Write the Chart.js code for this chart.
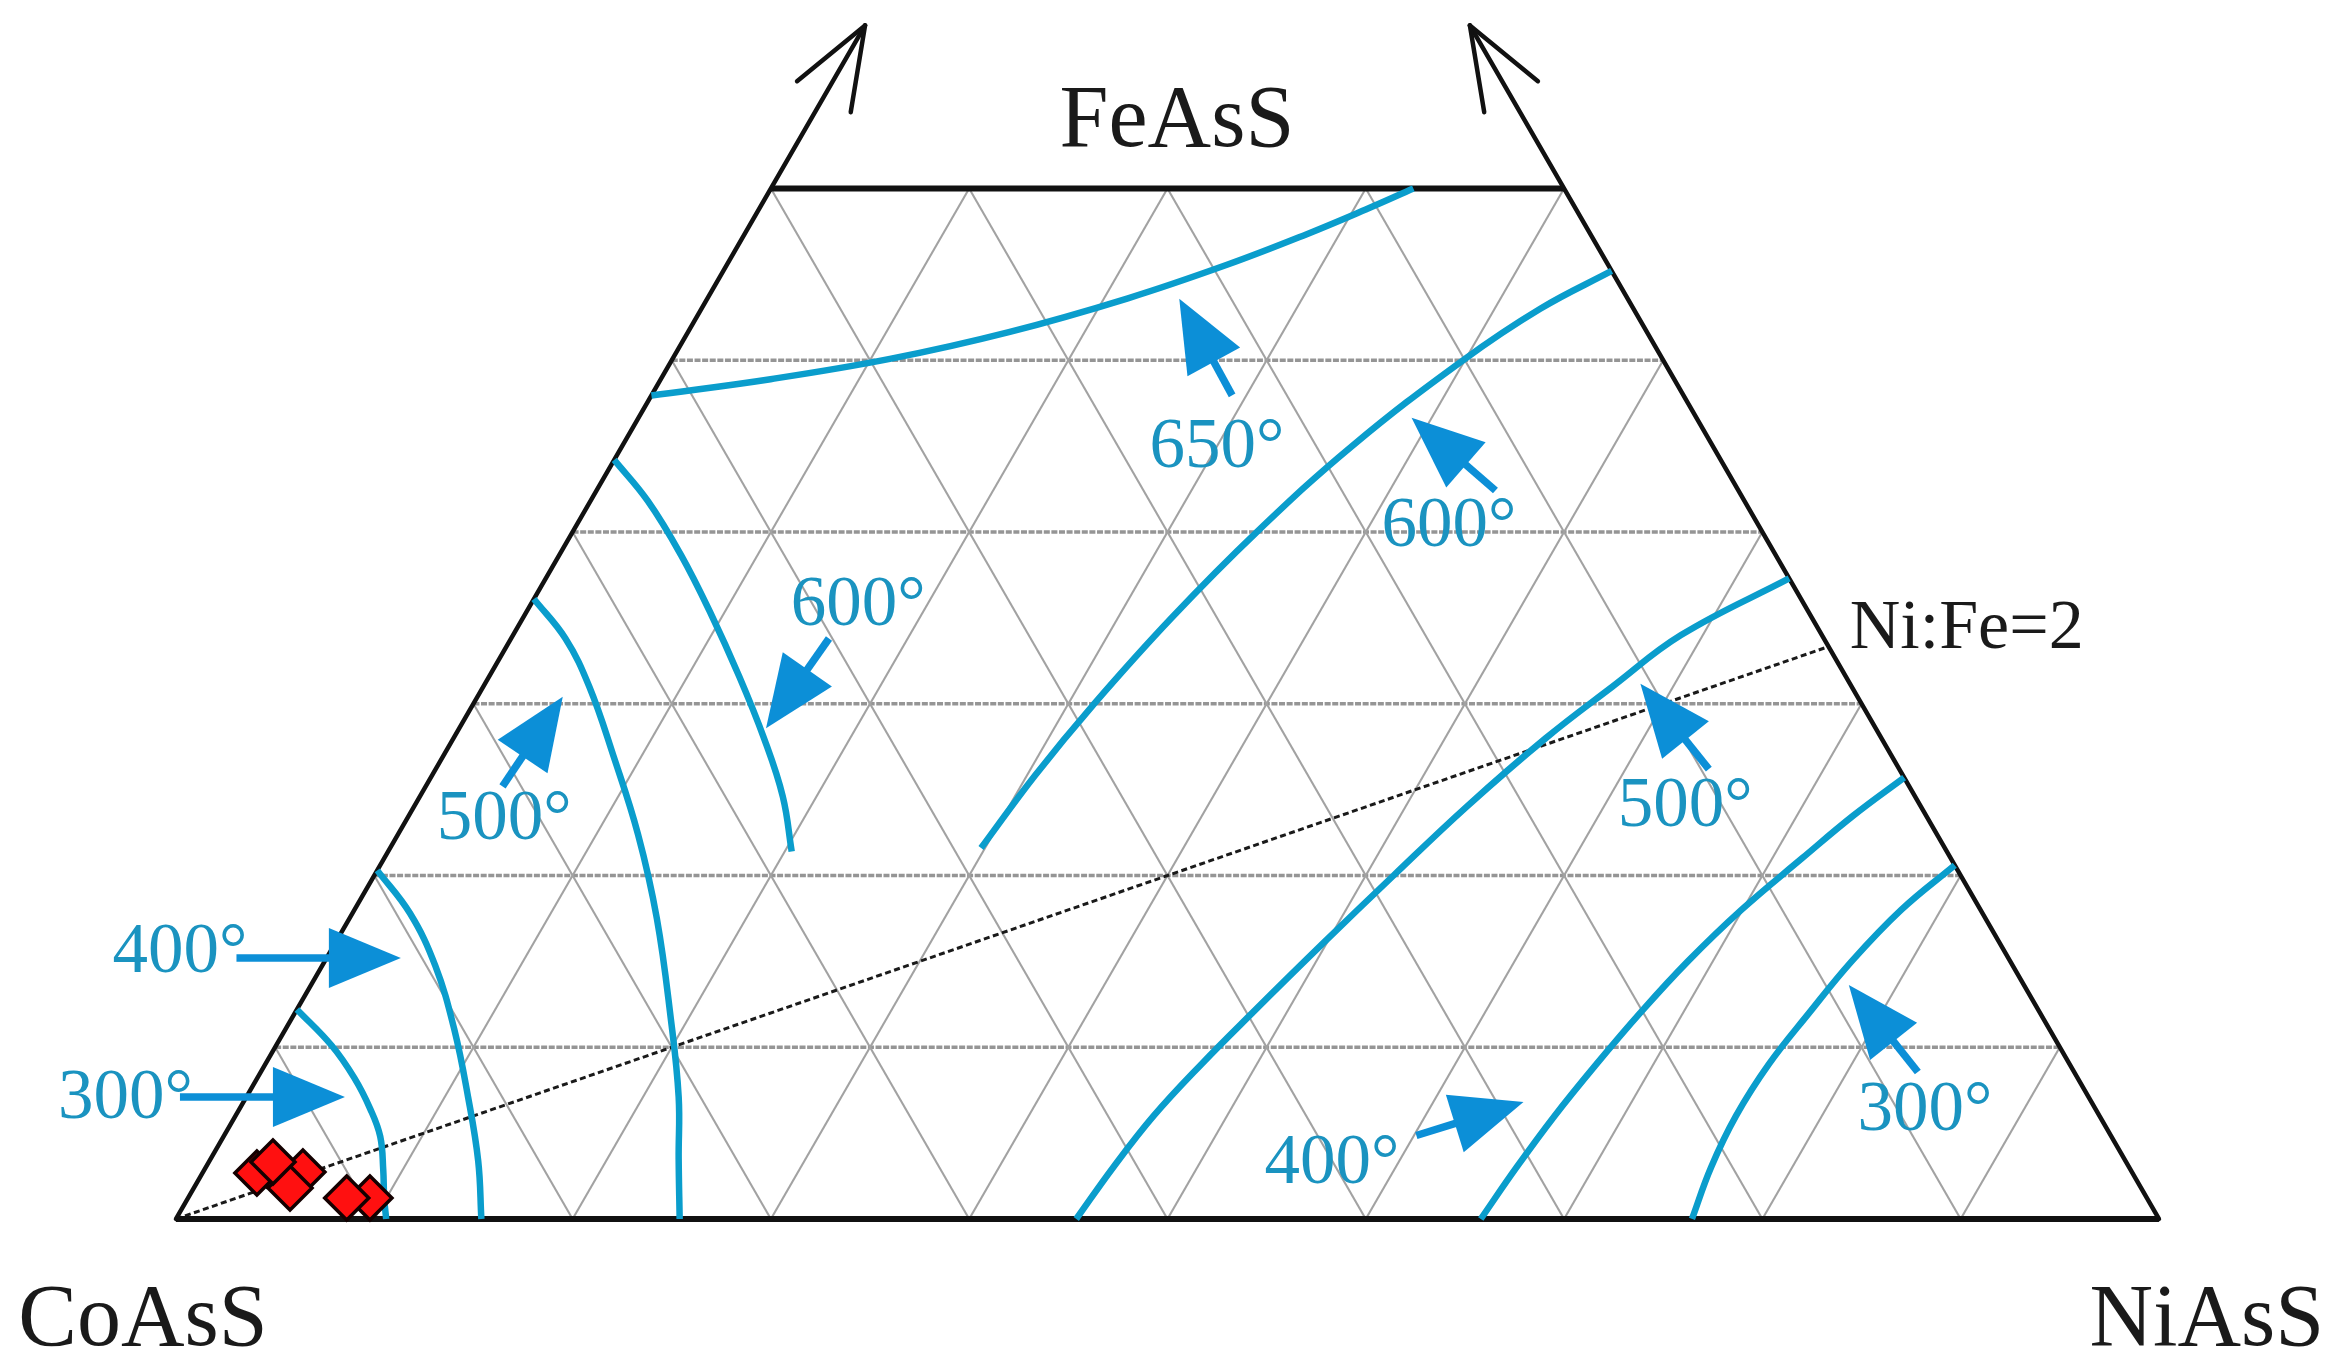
<!DOCTYPE html>
<html>
<head>
<meta charset="utf-8">
<script src="https://cdn.jsdelivr.net/npm/chart.js@4.4.0/dist/chart.umd.min.js"></script>
<style>
html,body{margin:0;padding:0;background:#fff;overflow:hidden;}
#wrap{width:2340px;height:1370px;position:relative;}
</style>
</head>
<body>
<div id="wrap"><canvas id="c"></canvas></div>
<script>
// All compositions are ternary [NiAsS %, FeAsS %]; CoAsS = 100 - Ni - Fe
const gridFe = [10, 20, 30, 40, 50];
const gridNi = [10, 20, 30, 40, 50, 60, 70, 80, 90];
const topFe = 60;
const axisArrowFe = 69.5;
const ratioLine = [[0, 0], [66.67, 33.33]]; // Ni:Fe = 2

const iso300L = [[0,12.2],[2.8,10.1],[4.9,8.2],[6.6,6.4],[7.9,4.8],[9.0,2.9],[9.9,1.2],[10.6,0]];
const iso400L = [[0,20.3],[2.9,17.8],[5.7,14.75],[8.5,11.06],[11.2,7.07],[13.55,3.38],[15.4,0]];
const iso500L = [[0,36.1],[2.74,33.8],[5.34,31.0],[8.55,27.0],[12.1,22.4],[15.5,17.5],[19.1,11.7],[21.8,7.1],[23.6,3.5],[25.4,0]];
const iso600L = [[0,44.2],[2.9,41.8],[6.1,38.7],[9.3,35.3],[12.6,31.6],[15.65,28.0],[18.3,24.6],[20.35,21.4]];
const iso650  = [[32.4,60],[30.61,58.78],[28.33,57.33],[25.22,55.56],[21.2,53.61],[16.18,51.64],[10.96,50.08],[5.53,48.9],[0,47.95]];
const iso600R = [[44.8,55.2],[42.3,53.0],[39.9,50.0],[36.8,45.0],[34.5,40.0],[32.7,35.0],[31.3,30.0],[30.4,25.8],[29.8,21.6]];
const iso500R = [[62.7,37.3],[58.9,34.0],[56.94,31.0],[55.08,28.0],[53.08,24.0],[51.4,20.0],[49.8,16.0],[48.28,12.0],[47.2,9.0],[46.3,6.0],[45.76,3.0],[45.4,0]];
const iso400R = [[74.3,25.7],[72.85,23.5],[71.5,21.0],[69.94,18.0],[68.74,15.0],[67.84,12.0],[67.12,9.0],[66.52,6.0],[66.1,3.0],[65.8,0]];
const iso300R = [[79.4,20.6],[78.0,18.0],[77.0,15.0],[76.36,12.0],[75.82,9.0],[75.67,6.0],[75.91,3.0],[76.45,0]];

const samples = [[9.17,1.22],[8.0,1.22],[2.74,2.68],[5.03,2.74],[4.85,1.8],[3.23,3.32]];

// isotherm labels and arrows (tail -> tip)
const labelText = ['650°','600°','600°','500°','500°','400°','300°','400°','300°'];
const labelAt   = [[29.9,45.2],[43.9,40.6],[16.4,36.0],[4.8,23.5],[63.96,24.3],[-7.7,15.8],[-6.2,7.3],[56.55,3.5],[84.9,6.6]];
const arrowTail = [[29.28,47.96],[45.33,42.42],[16.03,33.8],[3.87,25.19],[64.2,26.2],[-4.55,15.2],[-3.35,7.1],[60.12,4.86],[83.56,8.56]];
const arrowTip  = [[23.8,53.59],[38.98,46.66],[15.47,28.57],[4.3,30.41],[58.27,31.16],[3.74,15.2],[4.97,7.1],[64.55,6.81],[77.55,13.62]];

const cornerText = ['FeAsS','CoAsS','NiAsS'];
const cornerAt   = [[19.23,62.5],[2.01,-7.34],[106.09,-7.34]];
const ratioText = 'Ni:Fe=2';
const ratioAt = [67.07,34.67];

const SQ = Math.sqrt(3) / 2;
function cart(p) { return { x: p[0] + p[1] / 2, y: p[1] * SQ }; }

const CURVE = '#0a9dcc';
const ARROW = '#0c8fd7';
const TEXT = '#1a93c0';

function px(chart, p) {
  const c = cart(p);
  return [chart.scales.x.getPixelForValue(c.x), chart.scales.y.getPixelForValue(c.y)];
}
function line(ctx, chart, a, b) {
  const A = px(chart, a), B = px(chart, b);
  ctx.beginPath(); ctx.moveTo(A[0], A[1]); ctx.lineTo(B[0], B[1]); ctx.stroke();
}

const framePlugin = {
  id: 'frame',
  beforeDatasetsDraw(chart) {
    const ctx = chart.ctx;
    ctx.save();
    ctx.lineCap = 'butt';
    // horizontal grid (constant Fe)
    ctx.strokeStyle = '#959595';
    ctx.lineWidth = 3.4;
    ctx.setLineDash([6, 1.6]);
    gridFe.forEach(fe => line(ctx, chart, [0, fe], [100 - fe, fe]));
    ctx.setLineDash([]);
    // diagonals
    ctx.strokeStyle = '#a2a2a2';
    ctx.lineWidth = 2.1;
    gridNi.forEach(k => {
      line(ctx, chart, [k, 0], [k, Math.min(topFe, 100 - k)]);
      const f = Math.min(topFe, k);
      line(ctx, chart, [k, 0], [k - f, f]);
    });
    // Ni:Fe = 2 dashed line
    ctx.strokeStyle = '#1a1a1a';
    ctx.lineWidth = 3;
    ctx.setLineDash([6, 3.5]);
    line(ctx, chart, ratioLine[0], ratioLine[1]);
    ctx.setLineDash([]);
    // frame
    ctx.strokeStyle = '#111';
    ctx.lineWidth = 6;
    line(ctx, chart, [0, 0], [100, 0]);
    line(ctx, chart, [0, topFe], [100 - topFe, topFe]);
    ctx.lineWidth = 4.5;
    ctx.lineCap = 'round';
    line(ctx, chart, [0, 0], [0, axisArrowFe]);
    line(ctx, chart, [100, 0], [100 - axisArrowFe, axisArrowFe]);
    // open arrow heads on extended sides
    [[[0, topFe], [0, axisArrowFe]], [[100 - topFe, topFe], [100 - axisArrowFe, axisArrowFe]]].forEach(seg => {
      const A = px(chart, seg[0]), B = px(chart, seg[1]);
      const ang = Math.atan2(A[1] - B[1], A[0] - B[0]);
      const L = 88, sp = 0.36;
      [ang - sp, ang + sp].forEach(a => {
        ctx.beginPath();
        ctx.moveTo(B[0], B[1]);
        ctx.lineTo(B[0] + L * Math.cos(a), B[1] + L * Math.sin(a));
        ctx.stroke();
      });
    });
    ctx.restore();
  },
  afterDatasetsDraw(chart) {
    const ctx = chart.ctx;
    ctx.save();
    // arrows
    const headL = 72, headW = 30;
    arrowTail.forEach((t, i) => {
      const A = px(chart, t), B = px(chart, arrowTip[i]);
      const dx = B[0] - A[0], dy = B[1] - A[1];
      const len = Math.hypot(dx, dy);
      const ux = dx / len, uy = dy / len;
      const bx = B[0] - ux * headL, by = B[1] - uy * headL;
      ctx.strokeStyle = ARROW;
      ctx.lineWidth = 7.5;
      ctx.lineCap = 'butt';
      ctx.beginPath(); ctx.moveTo(A[0], A[1]); ctx.lineTo(bx + ux * 4, by + uy * 4); ctx.stroke();
      ctx.fillStyle = ARROW;
      ctx.beginPath();
      ctx.moveTo(B[0], B[1]);
      ctx.lineTo(bx - uy * headW, by + ux * headW);
      ctx.lineTo(bx + uy * headW, by - ux * headW);
      ctx.closePath();
      ctx.fill();
    });
    // isotherm labels
    ctx.fillStyle = TEXT;
    ctx.font = '71px "Liberation Serif", "DejaVu Serif", serif';
    ctx.textAlign = 'center';
    ctx.textBaseline = 'alphabetic';
    labelText.forEach((s, i) => {
      const P = px(chart, labelAt[i]);
      ctx.fillText(s, P[0], P[1] + 24);
    });
    // ratio label
    ctx.fillStyle = '#1a1a1a';
    ctx.font = '70px "Liberation Serif", "DejaVu Serif", serif';
    ctx.textAlign = 'left';
    const R = px(chart, ratioAt);
    ctx.fillText(ratioText, R[0], R[1] + 24);
    // corner labels
    ctx.font = '88px "Liberation Serif", "DejaVu Serif", serif';
    ctx.textAlign = 'center';
    cornerText.forEach((s, i) => {
      const P = px(chart, cornerAt[i]);
      ctx.fillText(s, P[0], P[1]);
    });
    ctx.restore();
  }
};

function curveSet(pts) {
  return {
    data: pts.map(cart),
    showLine: true,
    borderColor: CURVE,
    borderWidth: 6.5,
    pointRadius: 0,
    tension: 0.4,
    fill: false,
    order: 2
  };
}

const datasets = [iso300L, iso400L, iso500L, iso600L, iso650, iso600R, iso500R, iso400R, iso300R].map(curveSet);
datasets.push({
  data: samples.map(cart),
  showLine: false,
  pointStyle: 'rectRot',
  pointRadius: 22,
  pointBackgroundColor: '#ff1010',
  pointBorderColor: '#140000',
  pointBorderWidth: 3.5,
  order: 0
});

new Chart(document.getElementById('c'), {
  type: 'scatter',
  data: { datasets },
  options: {
    responsive: true,
    maintainAspectRatio: false,
    animation: false,
    devicePixelRatio: 1,
    layout: { padding: 0, autoPadding: false },
    plugins: { legend: { display: false }, tooltip: { enabled: false } },
    scales: {
      x: { type: 'linear', display: false, bounds: 'data', grace: 0, min: -8.875, max: 109.13 },
      y: { type: 'linear', display: false, bounds: 'data', grace: 0, min: -7.615, max: 61.47 }
    }
  },
  plugins: [framePlugin]
});
</script>
</body>
</html>
